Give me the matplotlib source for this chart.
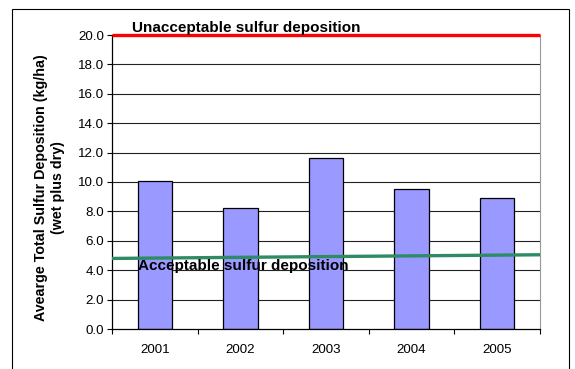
import matplotlib
matplotlib.use("Agg")
import matplotlib.pyplot as plt
from matplotlib.patches import Rectangle
import numpy as np

plt.rcParams['font.family'] = ['Liberation Sans', 'DejaVu Sans']

years = ["2001", "2002", "2003", "2004", "2005"]
deposition = [10.1, 8.2, 11.6, 9.5, 8.9]
unacceptable_level = 20.0
acceptable_start = 4.8
acceptable_end = 5.05
y_ticks = [0.0, 2.0, 4.0, 6.0, 8.0, 10.0, 12.0, 14.0, 16.0, 18.0, 20.0]

fig = plt.figure(figsize=(5.75, 3.69), dpi=100)
fig.patch.set_facecolor('white')

# Outer chart frame
fig.add_artist(Rectangle((12 / 575, -0.05), (569 - 12) / 575, 1.05 - 9 / 369,
                         transform=fig.transFigure, fill=False,
                         edgecolor='black', linewidth=0.8))

ax = fig.add_axes([112 / 575, 1 - 329 / 369, (540 - 112) / 575, (329 - 35) / 369])

x = np.arange(len(years))
ax.set_xlim(-0.5, len(years) - 0.5)
ax.set_ylim(0, 20)

# Gridlines
for yt in y_ticks[1:]:
    ax.axhline(yt, color='#222222', linewidth=0.8, zorder=1)

ax.bar(x, deposition, width=0.4, color='#9999FF', edgecolor='black',
       linewidth=0.9, zorder=2)

# Threshold lines
ax.plot([-0.5, len(years) - 0.5], [unacceptable_level, unacceptable_level],
        color='#FF0000', linewidth=2.4, zorder=4, clip_on=False, solid_capstyle='butt')
ax.plot([-0.5, len(years) - 0.5], [acceptable_start, acceptable_end],
        color='#2E8B63', linewidth=2.4, zorder=4, clip_on=False, solid_capstyle='butt')

ax.text(-0.27, 20.45, "Unacceptable sulfur deposition", fontsize=11,
        fontweight='bold', va='center', ha='left', zorder=5)
ax.text(-0.196, 4.29, "Acceptable sulfur deposition", fontsize=11,
        fontweight='bold', va='center', ha='left', zorder=5)

# Axes styling
ax.set_yticks(y_ticks)
ax.set_yticklabels([f"{v:.1f}" for v in y_ticks], fontsize=9.6)
ax.set_xticks(x)
ax.set_xticklabels(years, fontsize=9.6)
ax.set_xticks(np.arange(-0.5, len(years)), minor=True)
ax.tick_params(axis='x', which='major', length=0, pad=11)
ax.tick_params(axis='x', which='minor', length=3.5, width=0.8, direction='out')
ax.tick_params(axis='y', length=3.5, width=0.8, direction='out', pad=2)

ax.spines['top'].set_visible(False)
ax.spines['right'].set_color('#999999')
ax.spines['left'].set_linewidth(0.9)
ax.spines['bottom'].set_linewidth(0.9)

fig.text(49.5 / 575, 1 - 188 / 369,
         "Avearge Total Sulfur Deposition (kg/ha)\n(wet plus dry)",
         rotation=90, ha='center', va='center', multialignment='center',
         fontsize=10.3, fontweight='bold', linespacing=1.25)

fig.savefig("out.png", dpi=100)
